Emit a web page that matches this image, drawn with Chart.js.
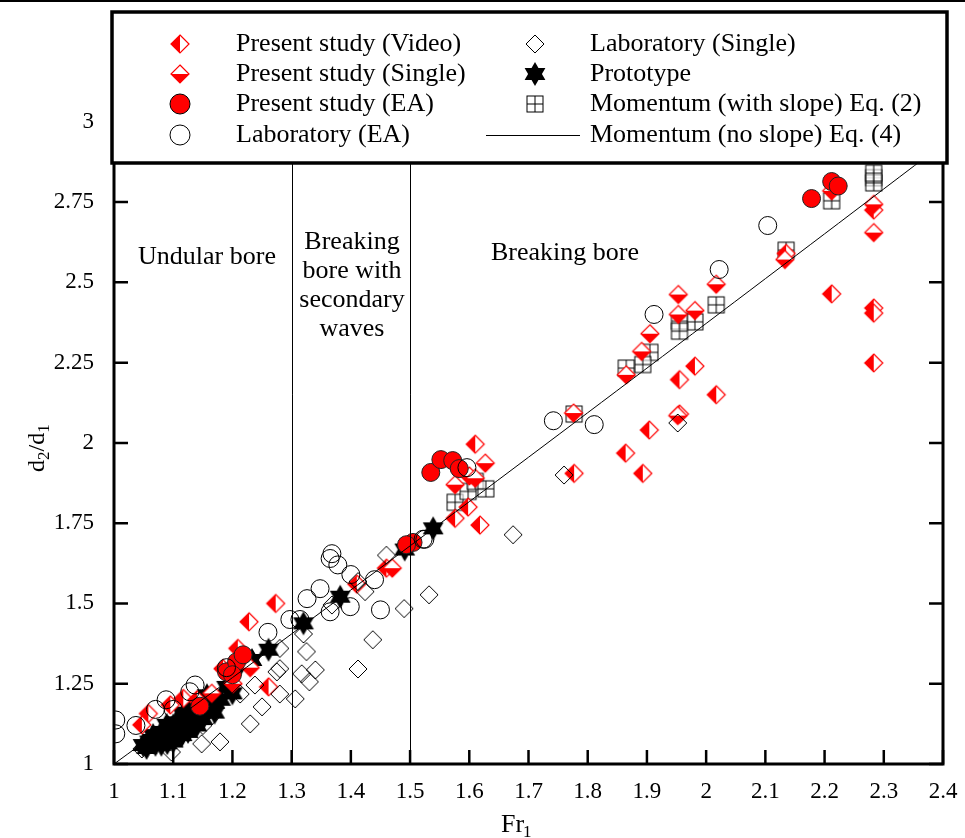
<!DOCTYPE html>
<html>
<head>
<meta charset="utf-8">
<script src="https://cdn.jsdelivr.net/npm/chart.js@4.4.0/dist/chart.umd.min.js"></script>
<style>
  html, body { margin: 0; padding: 0; background: #fff; }
  #wrap { width: 965px; height: 838px; }
</style>
</head>
<body>
<div id="wrap"><canvas id="boreChart" width="965" height="838"></canvas></div>
<script>
// values: [Fr1, d2/d1]
const presentVideo = [
  [2.283, 2.249], [2.283, 2.42], [2.283, 2.404], [2.283, 2.725], [2.212, 2.464],
  [2.135, 2.59], [2.017, 2.15], [1.981, 2.239], [1.955, 2.197], [1.955, 2.09],
  [1.904, 2.04], [1.864, 1.968], [1.893, 1.905], [1.777, 1.905], [1.618, 1.744],
  [1.576, 1.765], [1.598, 1.80], [1.61, 1.996], [1.46, 1.61], [1.41, 1.56],
  [1.273, 1.50], [1.228, 1.443], [1.209, 1.36], [1.261, 1.24], [1.184, 1.297],
  [1.117, 1.204], [1.095, 1.184], [1.058, 1.157], [1.047, 1.122], [1.14, 1.2],
];
const presentSingle = [
  [2.283, 2.743], [2.283, 2.655], [2.212, 2.785], [2.133, 2.571], [2.017, 2.494],
  [1.953, 2.462], [1.953, 2.40], [1.981, 2.412], [1.905, 2.34], [1.891, 2.285],
  [1.865, 2.212], [1.776, 2.093], [1.952, 2.085], [1.627, 1.937], [1.576, 1.87],
  [1.60, 1.897], [1.61, 1.89], [1.47, 1.61], [1.199, 1.277], [1.201, 1.25],
  [1.23, 1.3], [1.165, 1.22],
];
const presentEA = [
  [2.178, 2.761], [2.212, 2.814], [2.223, 2.80], [1.535, 1.908], [1.552, 1.948],
  [1.572, 1.945], [1.583, 1.92], [1.505, 1.69], [1.494, 1.683], [1.19, 1.287],
  [1.207, 1.318], [1.218, 1.34], [1.2, 1.278], [1.145, 1.18],
];
const labEA = [
  [1.003, 1.137], [1.003, 1.094], [1.037, 1.12], [1.10, 1.17], [1.128, 1.225],
  [1.137, 1.246], [1.088, 1.2], [1.19, 1.30], [1.26, 1.41], [1.297, 1.45],
  [1.326, 1.515], [1.348, 1.546], [1.365, 1.64], [1.378, 1.62], [1.368, 1.655],
  [1.44, 1.574], [1.40, 1.59], [1.399, 1.49], [1.45, 1.48], [1.365, 1.474],
  [1.314, 1.45], [1.525, 1.70], [1.742, 2.069], [1.811, 2.057], [1.912, 2.40],
  [2.022, 2.54], [2.104, 2.677], [1.596, 1.923], [1.522, 1.70], [1.07, 1.17],
];
const labSingle = [
  [1.674, 1.714], [1.76, 1.90], [1.952, 2.062], [1.49, 1.484], [1.532, 1.527],
  [1.437, 1.387], [1.412, 1.296], [1.325, 1.35], [1.34, 1.293], [1.33, 1.256],
  [1.317, 1.281], [1.306, 1.203], [1.28, 1.297], [1.275, 1.287], [1.28, 1.218],
  [1.25, 1.178], [1.23, 1.125], [1.179, 1.069], [1.148, 1.063], [1.097, 1.037],
  [1.047, 1.047], [1.213, 1.218], [1.238, 1.246], [1.368, 1.495], [1.412, 1.568],
  [1.424, 1.537], [1.32, 1.405], [1.28, 1.36], [1.165, 1.15], [1.15, 1.12],
  [1.12, 1.1], [1.09, 1.08], [1.46, 1.65],
];
const prototype = [
  [1.539, 1.734], [1.491, 1.668], [1.382, 1.521], [1.32, 1.438], [1.261, 1.356],
  [1.233, 1.324], [1.213, 1.309], [1.157, 1.214], [1.134, 1.172], [1.117, 1.153],
  [1.089, 1.122], [1.066, 1.09], [1.049, 1.059], [1.06, 1.07], [1.075, 1.08],
  [1.08, 1.1], [1.095, 1.1], [1.1, 1.12], [1.105, 1.13], [1.11, 1.11],
  [1.12, 1.14], [1.125, 1.12], [1.13, 1.15], [1.14, 1.16], [1.145, 1.14],
  [1.15, 1.18], [1.16, 1.17], [1.07, 1.06], [1.085, 1.09], [1.115, 1.13],
  [1.135, 1.13], [1.105, 1.095], [1.17, 1.19], [1.18, 1.2], [1.19, 1.24],
  [1.065, 1.075], [1.09, 1.065], [1.1, 1.09], [1.115, 1.09], [1.125, 1.1],
  [1.14, 1.12], [1.15, 1.14], [1.155, 1.16], [1.17, 1.16], [1.13, 1.17],
  [1.12, 1.16], [1.055, 1.05], [1.08, 1.06], [1.1, 1.07], [1.2, 1.22],
];
const momentumSlope = [
  [2.283, 2.826], [2.283, 2.81], [2.283, 2.84], [2.212, 2.754], [2.135, 2.60],
  [2.017, 2.43], [1.981, 2.377], [1.955, 2.379], [1.955, 2.348], [1.905, 2.282],
  [1.893, 2.244], [1.865, 2.233], [1.777, 2.09], [1.576, 1.815], [1.598, 1.849],
  [1.61, 1.88], [1.628, 1.857],
];
const momentumNoSlope = [
  [1.0, 1.0], [1.2, 1.269], [1.4, 1.542], [1.6, 1.817], [1.8, 2.094],
  [2.0, 2.372], [2.2, 2.651], [2.4, 2.931],
];
const xTicks = [1, 1.1, 1.2, 1.3, 1.4, 1.5, 1.6, 1.7, 1.8, 1.9, 2, 2.1, 2.2, 2.3, 2.4];
const yTicks = [1, 1.25, 1.5, 1.75, 2, 2.25, 2.5, 2.75, 3];
const regimeLines = [1.3, 1.5];

const SERIF = "'Liberation Serif', 'DejaVu Serif', serif";
const RED = "#ff0000";

const makeMarker = (draw, size = 26) => {
  const c = document.createElement("canvas");
  c.width = size; c.height = size;
  const g = c.getContext("2d");
  draw(g, size / 2);
  return c;
};
const diamondPath = (g, m, r) => {
  g.beginPath();
  g.moveTo(m, m - r); g.lineTo(m + r, m); g.lineTo(m, m + r); g.lineTo(m - r, m); g.closePath();
};
const videoMarker = makeMarker((g, m) => {
  const r = 9;
  diamondPath(g, m, r); g.fillStyle = "#fff"; g.fill();
  g.beginPath(); g.moveTo(m, m - r); g.lineTo(m, m + r); g.lineTo(m - r, m); g.closePath();
  g.fillStyle = RED; g.fill();
  diamondPath(g, m, r); g.strokeStyle = RED; g.lineWidth = 1.2; g.stroke();
});
const singleMarker = makeMarker((g, m) => {
  const r = 9;
  diamondPath(g, m, r); g.fillStyle = "#fff"; g.fill();
  g.beginPath(); g.moveTo(m - r, m); g.lineTo(m + r, m); g.lineTo(m, m + r); g.closePath();
  g.fillStyle = RED; g.fill();
  diamondPath(g, m, r); g.strokeStyle = RED; g.lineWidth = 1.2; g.stroke();
});
const labDiamond = makeMarker((g, m) => {
  diamondPath(g, m, 9);
  g.strokeStyle = "#000"; g.lineWidth = 1; g.stroke();
});
const starMarker = makeMarker((g, m) => {
  g.fillStyle = "#000";
  [0, Math.PI].forEach((off) => {
    g.beginPath();
    for (let i = 0; i < 3; i++) {
      const a = off - Math.PI / 2 + (i * 2 * Math.PI) / 3;
      g[i ? "lineTo" : "moveTo"](m + 12 * Math.cos(a), m + 12 * Math.sin(a));
    }
    g.closePath(); g.fill();
  });
});
const squareMarker = makeMarker((g, m) => {
  const h = 8;
  g.fillStyle = "rgba(255,255,255,0.6)"; g.fillRect(m - h, m - h, 2 * h, 2 * h);
  g.strokeStyle = "#000"; g.lineWidth = 1;
  g.strokeRect(m - h, m - h, 2 * h, 2 * h);
  g.beginPath(); g.moveTo(m, m - h); g.lineTo(m, m + h); g.moveTo(m - h, m); g.lineTo(m + h, m); g.stroke();
});

const toPts = (arr) => arr.map(([x, y]) => ({ x, y }));
const scatterSet = (label, arr, style, extra = {}) => ({
  label, data: toPts(arr), showLine: false, pointStyle: style, ...extra,
});

const framePlugin = {
  id: "frame",
  afterDatasetsDraw(chart) {
    const { ctx, chartArea: a, scales } = chart;
    const xs = scales.x, ys = scales.y;
    ctx.save();
    // regime boundaries
    ctx.strokeStyle = "#000"; ctx.lineWidth = 1;
    regimeLines.forEach((v) => {
      const px = Math.round(xs.getPixelForValue(v)) + 0.5;
      ctx.beginPath(); ctx.moveTo(px, a.top); ctx.lineTo(px, a.bottom); ctx.stroke();
    });
    // inward ticks
    ctx.lineWidth = 2.5;
    xTicks.forEach((v) => {
      const px = xs.getPixelForValue(v);
      ctx.beginPath(); ctx.moveTo(px, a.bottom); ctx.lineTo(px, a.bottom - 14); ctx.stroke();
    });
    yTicks.forEach((v) => {
      const py = ys.getPixelForValue(v);
      ctx.beginPath(); ctx.moveTo(a.left, py); ctx.lineTo(a.left + 14, py);
      ctx.moveTo(a.right, py); ctx.lineTo(a.right - 14, py); ctx.stroke();
    });
    // frame
    ctx.lineWidth = 3;
    ctx.beginPath();
    ctx.moveTo(a.left, a.top); ctx.lineTo(a.left, a.bottom); ctx.lineTo(a.right, a.bottom); ctx.lineTo(a.right, a.top);
    ctx.stroke();
    ctx.lineWidth = 2;
    ctx.beginPath(); ctx.moveTo(0, 1); ctx.lineTo(965, 1); ctx.stroke();

    // region labels
    ctx.fillStyle = "#000"; ctx.font = "26px " + SERIF; ctx.textAlign = "center"; ctx.textBaseline = "middle";
    ctx.fillText("Undular bore", 207, 257);
    ctx.fillText("Breaking", 352, 242);
    ctx.fillText("bore with", 352, 271);
    ctx.fillText("secondary", 352, 300);
    ctx.fillText("waves", 352, 329);
    ctx.fillText("Breaking bore", 565, 253);

    // legend box
    ctx.fillStyle = "#fff"; ctx.fillRect(112, 12, 835, 151);
    ctx.lineWidth = 3.5; ctx.strokeRect(112, 12, 835, 151);
    ctx.fillStyle = "#000"; ctx.textAlign = "left";
    const rows = [44, 74, 104, 135];
    const left = [[videoMarker, "Present study (Video)"], [singleMarker, "Present study (Single)"],
      [null, "Present study (EA)"], [null, "Laboratory (EA)"]];
    const right = [[labDiamond, "Laboratory (Single)"], [starMarker, "Prototype"],
      [squareMarker, "Momentum (with slope) Eq. (2)"], [null, "Momentum (no slope) Eq. (4)"]];
    rows.forEach((y, i) => {
      const [lm, lt] = left[i];
      if (lm) ctx.drawImage(lm, 180 - 13, y - 13);
      else {
        ctx.beginPath(); ctx.arc(180, y, 10, 0, 2 * Math.PI);
        ctx.fillStyle = i === 2 ? RED : "#fff"; ctx.fill();
        ctx.strokeStyle = "#000"; ctx.lineWidth = 1; ctx.stroke();
      }
      ctx.fillStyle = "#000"; ctx.fillText(lt, 236, y);
      const [rm, rt] = right[i];
      if (rm) ctx.drawImage(rm, 535 - 13, y - 13);
      else {
        ctx.lineWidth = 1; ctx.beginPath(); ctx.moveTo(486, y + 0.5); ctx.lineTo(580, y + 0.5); ctx.stroke();
      }
      ctx.fillText(rt, 590, y);
    });

    // axis titles with subscripts
    ctx.font = "26px " + SERIF; ctx.textAlign = "left"; ctx.textBaseline = "alphabetic";
    ctx.fillText("Fr", 501, 832);
    ctx.font = "17px " + SERIF; ctx.fillText("1", 523, 837);
    ctx.save();
    ctx.translate(44, 440); ctx.rotate(-Math.PI / 2);
    let x0 = -32;
    const part = (t, sub) => {
      ctx.font = (sub ? "17px " : "24px ") + SERIF;
      ctx.fillText(t, x0, sub ? 5 : 0);
      x0 += ctx.measureText(t).width;
    };
    part("d"); part("2", true); part("/d"); part("1", true);
    ctx.restore();
    ctx.restore();
  },
};

new Chart(document.getElementById("boreChart"), {
  type: "scatter",
  data: {
    datasets: [
      { label: "Momentum (no slope) Eq. (4)", data: toPts(momentumNoSlope), showLine: true,
        borderColor: "#000", borderWidth: 1, pointRadius: 0, tension: 0.3 },
      scatterSet("Laboratory (Single)", labSingle, labDiamond, { pointRadius: 9 }),
      scatterSet("Laboratory (EA)", labEA, "circle",
        { pointRadius: 9, backgroundColor: "rgba(255,255,255,0)", borderColor: "#000", borderWidth: 1 }),
      scatterSet("Present study (EA)", presentEA, "circle",
        { pointRadius: 9, backgroundColor: RED, borderColor: "#222", borderWidth: 1 }),
      scatterSet("Present study (Single)", presentSingle, singleMarker, { pointRadius: 9 }),
      scatterSet("Present study (Video)", presentVideo, videoMarker, { pointRadius: 9 }),
      scatterSet("Prototype", prototype, starMarker, { pointRadius: 12 }),
      scatterSet("Momentum (with slope) Eq. (2)", momentumSlope, squareMarker, { pointRadius: 8 }),
    ],
  },
  options: {
    responsive: false,
    animation: false,
    layout: { padding: { top: 0, left: 0, right: 0, bottom: 0 } },
    plugins: { legend: { display: false }, tooltip: { enabled: false } },
    scales: {
      x: {
        type: "linear", min: 1, max: 2.4,
        afterBuildTicks: (s) => { s.ticks = xTicks.map((v) => ({ value: v })); },
        afterFit: (s) => { s.height = 74; },
        grid: { display: false }, border: { display: false },
        ticks: { color: "#000", font: { family: SERIF, size: 23 }, padding: 6, maxRotation: 0,
          autoSkip: false, callback: (v) => String(v) },
      },
      y: {
        type: "linear", min: 1, max: 3.299,
        afterBuildTicks: (s) => { s.ticks = yTicks.map((v) => ({ value: v })); },
        afterFit: (s) => { s.width = 114; },
        grid: { display: false }, border: { display: false },
        ticks: { color: "#000", font: { family: SERIF, size: 23 }, padding: 12,
          autoSkip: false, callback: (v) => String(v) },
      },
      y2: {
        type: "linear", position: "right", min: 1, max: 3.299,
        afterFit: (s) => { s.width = 22; },
        grid: { display: false }, border: { display: false }, ticks: { display: false },
      },
    },
  },
  plugins: [framePlugin],
});
</script>
</body>
</html>
